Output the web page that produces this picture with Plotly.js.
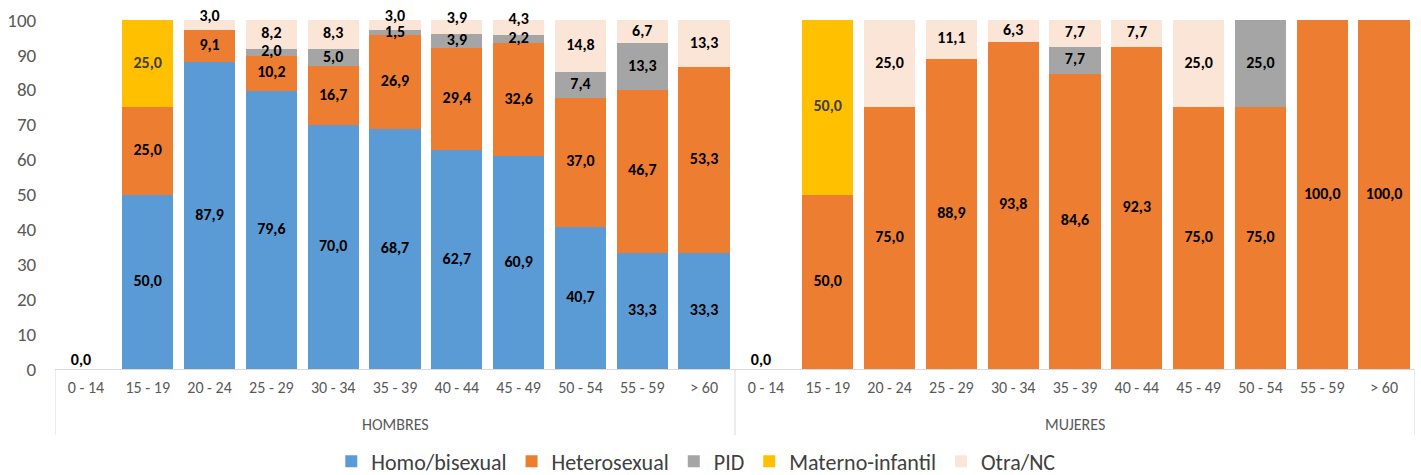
<!DOCTYPE html>
<html>
<head>
<meta charset="utf-8">
<script src="https://cdn.plot.ly/plotly-3.0.1.min.js"></script>
<style>html,body{margin:0;padding:0;background:#fff;}#chart{width:1421px;height:475px;}</style>
</head>
<body>
<div id="chart"></div>
<script>
const categories = ['0 - 14','15 - 19','20 - 24','25 - 29','30 - 34','35 - 39','40 - 44','45 - 49','50 - 54','55 - 59','> 60'];
const groups = ['HOMBRES','MUJERES'];
const seriesNames = ['Homo/bisexual','Heterosexual','PID','Materno-infantil','Otra/NC'];
const seriesColors = ['#5B9BD5','#ED7D31','#A5A5A5','#FFC000','#FBE5D6'];

const homoH     = [0, 50.0, 87.9, 79.6, 70.0, 68.7, 62.7, 60.9, 40.7, 33.3, 33.3];
const heteroH   = [0, 25.0,  9.1, 10.2, 16.7, 26.9, 29.4, 32.6, 37.0, 46.7, 53.3];
const pidH      = [0,  0,    0,    2.0,  5.0,  1.5,  3.9,  2.2,  7.4, 13.3,  0];
const maternoH  = [0, 25.0,  0,    0,    0,    0,    0,    0,    0,    0,    0];
const otraH     = [0,  0,    3.0,  8.2,  8.3,  3.0,  3.9,  4.3, 14.8,  6.7, 13.3];

const homoM     = [0,  0,    0,    0,    0,    0,    0,    0,    0,    0,    0];
const heteroM   = [0, 50.0, 75.0, 88.9, 93.8, 84.6, 92.3, 75.0, 75.0, 100.0, 100.0];
const pidM      = [0,  0,    0,    0,    0,    7.7,  0,    0,   25.0,  0,    0];
const maternoM  = [0, 50.0,  0,    0,    0,    0,    0,    0,    0,    0,    0];
const otraM     = [0,  0,   25.0, 11.1,  6.3,  7.7,  7.7, 25.0,  0,    0,    0];

const FONT = "Carlito, Lato, 'Open Sans', sans-serif";

// positions along the category axis
const xIdx = [], xTick = [];
groups.forEach((g, gi) => categories.forEach((c, ci) => { xIdx.push(gi * categories.length + ci); xTick.push(c); }));

const seriesData = [
  homoH.concat(homoM),
  heteroH.concat(heteroM),
  pidH.concat(pidM),
  maternoH.concat(maternoM),
  otraH.concat(otraM)
];

const fmt = v => v.toFixed(1).replace('.', ',');

const traces = seriesData.map((vals, i) => ({
  type: 'bar',
  name: seriesNames[i],
  x: xIdx,
  y: vals,
  marker: {color: seriesColors[i], line: {width: 0}},
  hoverinfo: 'skip'
}));

// data labels at segment midpoints (small top segments sit just above their midpoint)
const n = xIdx.length;
const cum = new Array(n).fill(0);
const lab = {mid: {x: [], y: [], t: [], c: []}, top: {x: [], y: [], t: [], c: []}};
seriesData.forEach((vals, i) => {
  vals.forEach((v, j) => {
    if (v > 0) {
      const isTopSmall = (i === seriesData.length - 1) && v < 5;
      const L = isTopSmall ? lab.top : lab.mid;
      L.x.push(xIdx[j]); L.y.push(cum[j] + v / 2); L.t.push(fmt(v));
      L.c.push(i === 3 ? '#404040' : '#000000');
    }
    cum[j] += v;
  });
});
[['mid', 'middle center'], ['top', 'top center']].forEach(([k, pos]) => {
  traces.push({
    type: 'scatter', mode: 'text', x: lab[k].x, y: lab[k].y, text: lab[k].t,
    textfont: {family: FONT, size: 16, color: lab[k].c, weight: 'bold'},
    textposition: pos, showlegend: false, hoverinfo: 'skip', cliponaxis: false
  });
});
// zero-total categories
const zx = [], zy = [], zt = [];
for (let j = 0; j < n; j++) {
  if (cum[j] === 0) { zx.push(xIdx[j] - 0.08); zy.push(0); zt.push(fmt(0)); }
}
traces.push({
  type: 'scatter', mode: 'text', x: zx, y: zy, text: zt,
  textfont: {family: FONT, size: 16, color: '#000000', weight: 'bold'},
  textposition: 'top center', showlegend: false, hoverinfo: 'skip', cliponaxis: false
});

// group dividers and group labels
const shapes = [];
const annotations = [];
const nc = categories.length;
for (let g = 0; g <= groups.length; g++) {
  shapes.push({type: 'line', xref: 'x', yref: 'paper', x0: g * nc - 0.5, x1: g * nc - 0.5,
               y0: 0, y1: -0.19, line: {color: '#D9D9D9', width: 1}});
}
groups.forEach((g, gi) => {
  annotations.push({xref: 'x', yref: 'paper', x: gi * nc + (nc - 1) / 2, y: -0.158,
                    text: g, showarrow: false, yanchor: 'middle',
                    font: {family: FONT, size: 16, color: '#595959'}});
});

const layout = {
  width: 1421, height: 475,
  margin: {l: 55, r: 6, t: 20, b: 106, autoexpand: false},
  barmode: 'stack',
  bargap: 0.17,
  paper_bgcolor: '#ffffff', plot_bgcolor: '#ffffff',
  font: {family: FONT, color: '#595959', size: 14},
  showlegend: true,
  legend: {orientation: 'h', xref: 'container', x: 0.49, xanchor: 'center', y: -0.265, yanchor: 'middle',
           font: {family: FONT, size: 22, color: '#404040'}, traceorder: 'normal'},
  shapes: shapes,
  annotations: annotations,
  xaxis: {
    range: [-0.5, n - 0.5], autorange: false,
    tickmode: 'array', tickvals: xIdx, ticktext: xTick,
    showline: true, linecolor: '#D9D9D9', linewidth: 1,
    ticks: 'outside', ticklen: 4, tickcolor: 'rgba(0,0,0,0)',
    tickfont: {family: FONT, size: 16, color: '#595959'},
    showgrid: false, zeroline: false, automargin: false
  },
  yaxis: {
    range: [0, 100], autorange: false, dtick: 10, showgrid: false, zeroline: false, showline: false,
    ticks: 'outside', ticklen: 14, tickcolor: 'rgba(0,0,0,0)',
    tickfont: {family: FONT, size: 19, color: '#595959'}, automargin: false
  }
};

Plotly.newPlot('chart', traces, layout, {displayModeBar: false, staticPlot: true});
</script>
</body>
</html>
